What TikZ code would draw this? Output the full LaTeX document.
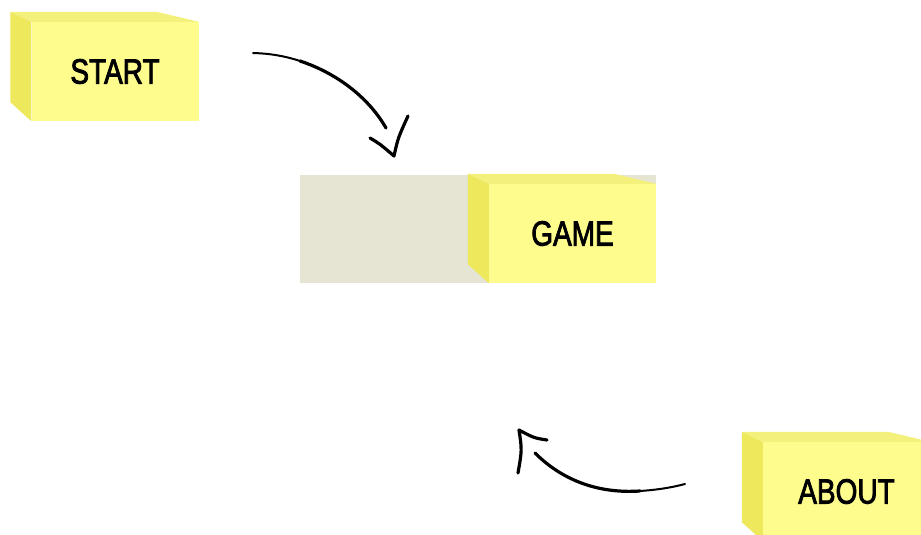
\documentclass[tikz,border=0pt]{standalone}
\usepackage{fontspec}
\newfontfamily\labelfont{Liberation Sans}[UprightFeatures={FakeBold=2.6}]
\usetikzlibrary{calc}
\definecolor{frontY}{HTML}{FFFC8E}
\definecolor{topY}{HTML}{F4F07C}
\definecolor{sideY}{HTML}{EDE85C}
\definecolor{panelG}{HTML}{E6E4D3}
\tikzset{
  front/.style={fill=frontY, draw=none, inner sep=0pt, minimum width=167pt, minimum height=99pt,
    font=\labelfont\fontsize{35}{35}\selectfont},
  sideface/.style={fill=sideY, draw=none},
  topface/.style={fill=topY, draw=none},
  sketch/.style={draw=black, line width=3.2pt, line cap=round, line join=round},
  thinend/.style={draw=black, line width=2pt, line cap=round},
}
\newcommand{\sqz}[1]{\scalebox{0.8}[1]{#1}}
\newcommand{\boxfaces}[1]{%
  \fill[sideface] ($(#1.north west)+(-21,-10)$) -- (#1.north west) -- (#1.south west) -- ($(#1.south west)+(-21,-19)$) -- cycle;
  \fill[topface] ($(#1.north west)+(-21,-10)$) -- ($(#1.north east)+(-42,-10)$) -- (#1.north east) -- (#1.north west) -- cycle;
}
\begin{document}
\begin{tikzpicture}[x=1pt,y=-1pt]
\useasboundingbox (0,0) rectangle (921,535);
\clip (0,0) rectangle (921,535);
\fill[white] (0,0) rectangle (921,535);
% gray panel
\fill[panelG] (300,175) rectangle (656,283);
% boxes
\node[front] (start) at (115,71.5) {\sqz{START}};
\boxfaces{start}
\node[front] (game) at (572.5,233.5) {\sqz{GAME}};
\boxfaces{game}
\node[front] (about) at (846.5,491.5) {\sqz{ABOUT}};
\boxfaces{about}
% arrow 1
\coordinate (a1s) at (253,53);
\coordinate (a1e) at (386,128);
\coordinate (h1a) at (370,138);
\coordinate (h1t) at (394,156);
\coordinate (h1b) at (408,116);
\draw[thinend] (a1s) .. controls (270,53.5) and (285,56) .. (300,61);
\draw[sketch] (300,61) .. controls (340,74.3) and (370,100) .. (a1e);
\draw[sketch] (h1a) .. controls (380,144) .. (h1t) .. controls (398,138) .. (h1b);
% arrow 2
\coordinate (a2s) at (685,484);
\coordinate (a2e) at (535,453);
\coordinate (h2a) at (518,473);
\coordinate (h2t) at (519,430);
\coordinate (h2b) at (547,440);
\draw[thinend] (a2s) .. controls (670,488) and (655,490) .. (640,491);
\draw[sketch] (640,491) .. controls (595,494) and (560,478) .. (a2e);
\draw[sketch] (h2a) .. controls (522,450) .. (h2t) .. controls (534,438) .. (h2b);
\end{tikzpicture}
\end{document}
